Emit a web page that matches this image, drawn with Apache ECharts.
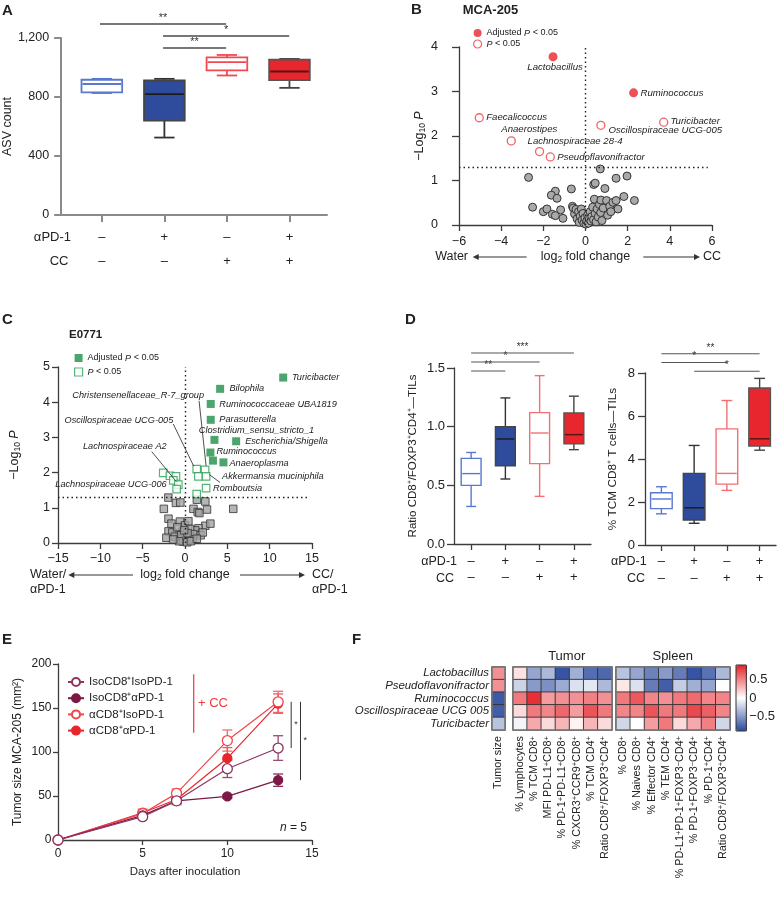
<!DOCTYPE html>
<html>
<head>
<meta charset="utf-8">
<script src="https://cdn.jsdelivr.net/npm/echarts@6.0.0/dist/echarts.min.js"></script>
<style>html,body{margin:0;padding:0;background:#fff;}#chart{width:778px;height:897px;}</style>
</head>
<body>
<div id="chart"></div>
<script>
// ================= DATA =================
// Panel A – ASV count, boxes [min, Q1, median, Q3, max]
const aGroups = [1, 2, 3, 4];
const aPD1Signs = ['–', '+', '–', '+'];
const aCCSigns = ['–', '–', '+', '+'];
const asvBoxes = [[827, 831, 888, 917, 923], [525, 640, 820, 912, 923], [946, 980, 1037, 1068, 1085], [862, 915, 973, 1053, 1058]];
const asvSig = [[1, 3, 3, '**'], [2, 4, 2, '*'], [2, 3, 1, '**']];

// Panel B – MCA-205 volcano [name, log2FC, -log10P]
const bAdjusted = [['Lactobacillus', -1.54, 3.78], ['Ruminococcus', 2.28, 2.97]];
const bNominal = [['Faecalicoccus', -5.04, 2.41], ['Anaerostipes', -3.52, 1.89], ['Lachnospiraceae 28-4', -2.18, 1.65],
  ['Pseudoflavonifractor', -1.67, 1.53], ['Oscillospiraceae UCG-005', 0.73, 2.24], ['Turicibacter', 3.71, 2.31]];
const bNotSig = [[-2.70,1.07],[-2.51,0.40],[-2.00,0.30],[-1.83,0.36],[-1.57,0.24],[-1.43,0.76],[-1.62,0.67],[-1.35,0.60],[-1.18,0.34],[-1.07,0.15],[-1.43,0.21],[-0.67,0.81],
  [-0.62,0.42],[-0.58,0.38],[-0.52,0.25],[-0.45,0.35],[-0.40,0.14],[-0.33,0.30],[-0.30,0.06],[-0.25,0.20],[-0.20,0.36],[-0.16,0.11],[-0.12,0.26],[-0.08,0.04],[-0.03,0.16],[0.02,0.02],[0.06,0.09],[0.10,0.22],[0.14,0.04],[0.18,0.14],[0.22,0.30],[0.26,0.09],[0.30,0.19],[0.34,0.40],[0.38,0.12],[0.42,0.58],[0.46,0.26],[0.50,0.07],[0.55,0.36],[0.60,0.18],[0.66,0.46],[0.72,0.28],[0.78,0.10],[0.84,0.38],
  [0.39,0.91],[0.46,0.94],[0.70,1.26],[0.73,0.56],[0.92,0.82],[1.00,0.55],[1.05,0.22],[1.15,0.42],[1.30,0.51],[1.45,1.05],[1.45,0.55],[1.54,0.36],[1.20,0.30],[1.82,0.64],[1.97,1.10],[2.32,0.55]];

// Panel C – E0771 volcano
const cAdjusted = [['Turicibacter', 11.6, 4.70], ['Bilophila', 4.15, 4.38], ['Ruminococcaceae UBA1819', 3.04, 3.95], ['Parasutterella', 3.04, 3.50],
  ['Clostridium_sensu_stricto_1', 3.48, 2.93], ['Escherichia/Shigella', 6.04, 2.89], ['Ruminococcus', 3.0, 2.57], ['', 3.3, 2.34], ['Anaeroplasma', 4.54, 2.29]];
const cNominal = [['', -2.57, 1.99], ['', -1.78, 1.91], ['', -1.07, 1.89], ['', -1.38, 1.78], ['Lachnospiraceae A2', -0.79, 1.66], ['Lachnospiraceae UCG-006', -0.99, 1.53],
  ['Oscillospiraceae UCG-005', 1.38, 2.10], ['Christensenellaceae_R-7_group', 2.37, 2.08], ['', 1.58, 1.89], ['Akkermansia muciniphila', 2.49, 1.89], ['Romboutsia', 2.49, 1.56], ['', 1.38, 1.39]];
const cNotSig = [[-1.97,1.29],[-1.07,1.14],[-0.55,1.15],[-2.50,0.97],[-1.95,0.69],[-1.95,0.33],[-0.60,0.61],[0.00,0.50],[1.40,1.23],[2.40,1.18],[1.00,0.97],[1.50,0.88],[1.70,0.85],[2.60,0.95],[5.70,0.97],[2.40,0.49],[1.60,0.42],[1.20,0.36],[0.60,0.40],[-0.30,0.32],[-0.90,0.25],[-1.50,0.30],[-0.60,0.12],[0.00,0.08],[0.50,0.15],[1.00,0.25],[-0.20,0.04],[0.25,0.02],[-1.20,0.18],[0.90,0.10],[-0.45,0.22],[0.30,0.28],[1.85,0.22],[-2.20,0.15],[3.00,0.55],[2.10,0.30],[-1.60,0.55],[-0.90,0.45],[0.40,0.62],[-0.10,0.36],[-0.70,0.05],[0.70,0.05],[-1.40,0.10],[1.40,0.12]];
const pThreshold = 1.30103;

// Panel D – TIL boxes
const dGroups = ['1', '2', '3', '4'];
const dPD1Signs = ['–', '+', '–', '+'];
const dCCSigns = ['–', '–', '+', '+'];
const ratioBoxes = [[0.32, 0.50, 0.60, 0.73, 0.78], [0.554, 0.667, 0.895, 1.00, 1.245], [0.406, 0.685, 0.946, 1.12, 1.435], [0.804, 0.855, 0.932, 1.117, 1.26]];
const tcmBoxes = [[1.45, 1.69, 2.14, 2.43, 2.71], [1.01, 1.16, 1.73, 3.33, 4.63], [2.54, 2.83, 3.33, 5.40, 6.72], [4.41, 4.60, 4.94, 7.30, 7.75]];
const ratioSig = [[0, 1, 1, '**'], [0, 2, 2, '*'], [0, 3, 3, '***']];
const tcmSig = [[0, 3, 3, '**'], [0, 2, 2, '*'], [1, 3, 1, '*']];

// Panel E – tumour growth
const days = [0, 5, 7, 10, 13];
const eNames = ['IsoCD8⁺IsoPD-1', 'IsoCD8⁺αPD-1', 'αCD8⁺IsoPD-1', 'αCD8⁺αPD-1'];
const isoIso = [0, 26.5, 44.5, 81, 104.5];
const isoIsoErr = [0, 2, 3, 10, 14];
const isoAnti = [0, 28, 44.5, 49.5, 68];
const isoAntiErr = [0, 2, 3, 2, 7];
const antiIso = [0, 30, 53, 113, 157];
const antiIsoErr = [0, 3, 5, 12, 12];
const antiAnti = [0, 31, 46, 93, 155];
const antiAntiErr = [0, 4, 6, 12, 11];

// Panel F – correlation heatmap
const hmRows = ['Lactobacillus', 'Pseudoflavonifractor', 'Ruminococcus', 'Oscillospiraceae UCG 005', 'Turicibacter'];
const hmSizeCols = ['Tumor size'];
const hmTumorCols = ['% Lymphocytes', '% TCM CD8⁺', 'MFI PD-L1⁺CD8⁺', '% PD-1⁺PD-L1⁺CD8⁺', '% CXCR3⁺CCR9⁺CD8⁺', '% TCM CD4⁺', 'Ratio CD8⁺/FOXP3⁺CD4⁺'];
const hmSpleenCols = ['% CD8⁺', '% Naives CD8⁺', '% Effector CD4⁺', '% TEM CD4⁺', '% PD-L1⁺PD-1⁺FOXP3⁻CD4⁺', '% PD-1⁺FOXP3⁻CD4⁺', '% PD-1⁺CD4⁺', 'Ratio CD8⁺/FOXP3⁺CD4⁺'];
const hmSize = [0.45, 0.45, -0.82, -0.80, -0.30];
const hmTumor = [
  [0.12, -0.45, -0.35, -0.85, -0.40, -0.72, -0.75],
  [-0.22, -0.50, -0.55, -0.42, -0.15, -0.12, -0.35],
  [0.55, 0.85, 0.40, 0.45, 0.45, 0.52, 0.45],
  [0.15, 0.55, 0.50, 0.62, 0.40, 0.70, 0.55],
  [-0.05, 0.35, 0.15, 0.30, 0.05, 0.30, 0.15]];
const hmSpleen = [
  [-0.30, -0.45, -0.62, -0.50, -0.65, -0.85, -0.70, -0.35],
  [0.10, -0.15, -0.65, -0.80, -0.25, -0.40, -0.45, 0.00],
  [0.55, 0.68, 0.50, 0.45, 0.55, 0.60, 0.50, 0.50],
  [0.50, 0.50, 0.70, 0.55, 0.55, 0.75, 0.65, 0.50],
  [-0.20, 0.00, 0.40, 0.55, 0.15, 0.35, 0.52, -0.20]];
const colorTicks = [-0.5, 0, 0.5];

// ================= STYLE / HELPERS =================
const FONT = "'Liberation Sans', Arial, Helvetica, sans-serif";
const DARK = '#3c3c3c';
const RED = '#e8262d';
const GREEN = '#1f8f47';
const minus = v => (v < 0 ? '−' + (-v) : String(v));
const supRich = s => s.replace(/⁺/g, '{p|+}').replace(/⁻/g, '{p|−}');

function merge(a, b) {
  const out = Array.isArray(a) ? a.slice() : Object.assign({}, a);
  for (const k in b) {
    if (b[k] && typeof b[k] === 'object' && !Array.isArray(b[k]) && a[k] && typeof a[k] === 'object') out[k] = merge(a[k], b[k]);
    else out[k] = b[k];
  }
  return out;
}
function axis(gi, type, o, color, w) {
  color = color || DARK; w = w || 1.3;
  return merge({
    type, gridIndex: gi, splitLine: { show: false },
    axisLine: { show: true, onZero: false, lineStyle: { color, width: w } },
    axisTick: { show: true, length: 6, lineStyle: { color, width: w } },
    axisLabel: { fontFamily: FONT, fontSize: 12, color: '#222', margin: 8 },
    nameTextStyle: { fontFamily: FONT, fontSize: 12, color: '#222' }
  }, o);
}
const hidden = (gi, type, o) => Object.assign({ type, gridIndex: gi, show: false }, o);

const boxStylesA = [
  { fill: '#fff', stroke: '#5a78d0', whisker: '#5a78d0', median: '#5a78d0' },
  { fill: '#2f4b9c', stroke: '#444', whisker: '#333', median: '#1c1c1c' },
  { fill: '#fff', stroke: '#f04a50', whisker: '#f04a50', median: '#f04a50' },
  { fill: RED, stroke: '#555', whisker: '#444', median: '#5a1212' }];
const boxStylesD = [
  { fill: '#fff', stroke: '#5a78d0', whisker: '#5a78d0', median: '#5a78d0' },
  { fill: '#2f4b9c', stroke: '#444', whisker: '#333', median: '#1c1c1c' },
  { fill: '#fff', stroke: '#f36f73', whisker: '#f36f73', median: '#f36f73' },
  { fill: RED, stroke: '#555', whisker: '#444', median: '#5a1212' }];

function boxRender(styles, ratio, capRatio, lw) {
  return (params, api) => {
    const st = styles[params.dataIndex];
    const x = api.value(0);
    const p = [1, 2, 3, 4, 5].map(k => api.coord([x, api.value(k)]));
    const cx = p[0][0];
    const bw = api.size([1, 0])[0] * ratio, cw = bw * capRatio;
    const ls = c => ({ stroke: c, lineWidth: lw });
    return { type: 'group', children: [
      { type: 'line', shape: { x1: cx, y1: p[4][1], x2: cx, y2: p[3][1] }, style: ls(st.whisker) },
      { type: 'line', shape: { x1: cx, y1: p[1][1], x2: cx, y2: p[0][1] }, style: ls(st.whisker) },
      { type: 'line', shape: { x1: cx - cw / 2, y1: p[4][1], x2: cx + cw / 2, y2: p[4][1] }, style: ls(st.whisker) },
      { type: 'line', shape: { x1: cx - cw / 2, y1: p[0][1], x2: cx + cw / 2, y2: p[0][1] }, style: ls(st.whisker) },
      { type: 'rect', shape: { x: cx - bw / 2, y: p[3][1], width: bw, height: p[1][1] - p[3][1] }, style: { fill: st.fill, stroke: st.stroke, lineWidth: lw } },
      { type: 'line', shape: { x1: cx - bw / 2 + 1, y1: p[2][1], x2: cx + bw / 2 - 1, y2: p[2][1] }, style: ls(st.median) }
    ] };
  };
}
function sigRender(sig, color, lw, fs) {
  return (params, api) => {
    const s = sig[params.dataIndex];
    const a = api.coord([api.value(0), api.value(2)]), b = api.coord([api.value(1), api.value(2)]);
    return { type: 'group', children: [
      { type: 'line', shape: { x1: a[0], y1: a[1], x2: b[0], y2: b[1] }, style: { stroke: color, lineWidth: lw } },
      { type: 'text', x: (a[0] + b[0]) / 2, y: a[1] - 1, style: { text: s[3], fill: '#333', font: fs + 'px ' + FONT, align: 'center', verticalAlign: 'bottom' } }
    ] };
  };
}
function labelRender(list, cfg, fs) {
  return (params, api) => {
    const name = list[params.dataIndex][0];
    const c = Object.assign({ dx: 7, dy: 0, align: 'left' }, cfg[name] || {});
    const p = api.coord([api.value(0), api.value(1)]);
    const ch = [{ type: 'text', x: p[0] + c.dx, y: p[1] + c.dy, style: { text: name, fill: '#222', font: 'italic ' + fs + 'px ' + FONT, align: c.align, verticalAlign: 'middle' } }];
    if (c.line) ch.push({ type: 'line', shape: { x1: p[0] + c.line[0], y1: p[1] + c.line[1], x2: p[0] + c.line[2], y2: p[1] + c.line[3] }, style: { stroke: '#222', lineWidth: 0.8 } });
    return { type: 'group', children: ch };
  };
}
function errRender(color) {
  return (params, api) => {
    const lo = api.coord([api.value(0), api.value(1)]), hi = api.coord([api.value(0), api.value(2)]);
    if (Math.abs(lo[1] - hi[1]) < 0.5) return null;
    const x = lo[0], w = 5;
    const s = { stroke: color, lineWidth: 1.3 };
    return { type: 'group', children: [
      { type: 'line', shape: { x1: x, y1: lo[1], x2: x, y2: hi[1] }, style: s },
      { type: 'line', shape: { x1: x - w, y1: lo[1], x2: x + w, y2: lo[1] }, style: s },
      { type: 'line', shape: { x1: x - w, y1: hi[1], x2: x + w, y2: hi[1] }, style: s }
    ] };
  };
}

const bLabelCfg = {
  'Lactobacillus': { dx: 2, dy: 11, align: 'center' },
  'Ruminococcus': { dx: 7, dy: 0 },
  'Faecalicoccus': { dx: 7, dy: 0 },
  'Anaerostipes': { dx: 18, dy: -11.5, align: 'center' },
  'Lachnospiraceae 28-4': { dx: 35.5, dy: -10, align: 'center' },
  'Pseudoflavonifractor': { dx: 7, dy: 0 },
  'Oscillospiraceae UCG-005': { dx: 7.6, dy: 5.3 },
  'Turicibacter': { dx: 6.7, dy: -1.3 }
};
const cLabelCfg = {
  'Turicibacter': { dx: 8.7 }, 'Bilophila': { dx: 9.3 }, 'Ruminococcaceae UBA1819': { dx: 8.6, dy: 0.7 }, 'Parasutterella': { dx: 8.6 },
  'Clostridium_sensu_stricto_1': { dx: 42, dy: -9.3, align: 'center' }, 'Escherichia/Shigella': { dx: 9 }, 'Ruminococcus': { dx: 6, dy: -1 },
  'Anaeroplasma': { dx: 6, dy: 0.6 }, 'Akkermansia muciniphila': { dx: 16, dy: 0, line: [3, -2, 14, 6] }, 'Romboutsia': { dx: 7 },
  'Oscillospiraceae UCG-005': { dx: -23.4, dy: -49, align: 'right', line: [-23.4, -45, -3, -3] },
  'Christensenellaceae_R-7_group': { dx: -1, dy: -74, align: 'right', line: [-6, -69, 1, -4] },
  'Lachnospiraceae A2': { dx: -11.6, dy: -38, align: 'right', line: [-26.6, -33, -2, -3] },
  'Lachnospiraceae UCG-006': { dx: -10, dy: -5, align: 'right' }
};

// ================= CHART =================
const hmBorder = { show: true, borderColor: '#7a7a7a', borderWidth: 1.5, backgroundColor: 'transparent', z: 10 };
const grids = [
  { left: 59, top: 38, width: 268, height: 177 },   // 0 A
  { left: 59, top: 12, width: 268, height: 48 },    // 1 A sig
  { left: 459, top: 47, width: 253, height: 178 },  // 2 B
  { left: 58, top: 367, width: 254, height: 176 },  // 3 C
  { left: 454, top: 368, width: 137, height: 176 }, // 4 D left
  { left: 454, top: 344, width: 137, height: 36 },  // 5 D left sig
  { left: 645, top: 373, width: 131, height: 172 }, // 6 D right
  { left: 645, top: 345, width: 131, height: 35 },  // 7 D right sig
  { left: 58, top: 664, width: 254, height: 176 },  // 8 E
  Object.assign({ left: 492, top: 667, width: 13, height: 63 }, hmBorder),   // 9 F size
  Object.assign({ left: 513, top: 667, width: 99, height: 63 }, hmBorder),   // 10 F tumor
  Object.assign({ left: 616, top: 667, width: 114, height: 63 }, hmBorder),  // 11 F spleen
  { left: 736, top: 665, width: 11, height: 66, show: true, borderColor: '#333', borderWidth: 1, backgroundColor: 'transparent', z: 10 } // 12 colorbar axis
];

const GREY_A = '#8a8a8a';
const hmXLabel = { rotate: 90, interval: 0, margin: 6, fontSize: 10.8, fontFamily: FONT, color: '#222', formatter: supRich,
  rich: { p: { fontSize: 7.5, fontFamily: FONT, color: '#222', verticalAlign: 'top', lineHeight: 8 } } };
const xAxes = [
  axis(0, 'value', { min: 0.35, max: 4.6, axisTick: { customValues: aGroups, length: 7 },
    axisLabel: { customValues: aGroups, fontSize: 13, lineHeight: 23.5, margin: 11, formatter: v => aPD1Signs[aGroups.indexOf(v)] + '\n' + aCCSigns[aGroups.indexOf(v)] } }, GREY_A, 2),
  hidden(1, 'value', { min: 0.35, max: 4.6 }),
  axis(2, 'value', { min: -6, max: 6, interval: 2, axisLabel: { formatter: minus, fontSize: 12.5, margin: 10 },
    name: '{t|log}{s|2}{t| fold change}', nameLocation: 'middle', nameGap: 24,
    nameTextStyle: { rich: { t: { fontSize: 12.5, fontFamily: FONT, color: '#222' }, s: { fontSize: 8.5, fontFamily: FONT, color: '#222', verticalAlign: 'bottom', padding: [6, 0, 0, 0] } } } }),
  axis(3, 'value', { min: -15, max: 15, interval: 5, axisLabel: { formatter: minus, fontSize: 12.5, margin: 9.5 },
    name: '{t|log}{s|2}{t| fold change}', nameLocation: 'middle', nameGap: 24,
    nameTextStyle: { rich: { t: { fontSize: 12.5, fontFamily: FONT, color: '#222' }, s: { fontSize: 8.5, fontFamily: FONT, color: '#222', verticalAlign: 'bottom', padding: [6, 0, 0, 0] } } } }),
  axis(4, 'category', { data: dGroups, axisTick: { alignWithLabel: true }, axisLabel: { fontSize: 13, lineHeight: 16.6, margin: 9, formatter: (v, i) => dPD1Signs[i] + '\n' + dCCSigns[i] } }),
  hidden(5, 'category', { data: dGroups }),
  axis(6, 'category', { data: dGroups, axisTick: { alignWithLabel: true }, axisLabel: { fontSize: 13, lineHeight: 16.6, margin: 8.5, formatter: (v, i) => dPD1Signs[i] + '\n' + dCCSigns[i] } }),
  hidden(7, 'category', { data: dGroups }),
  axis(8, 'value', { min: 0, max: 15, interval: 5, axisTick: { length: 5 }, axisLabel: { margin: 8 }, name: 'Days after inoculation', nameLocation: 'middle', nameGap: 26, nameTextStyle: { fontSize: 11.5 } }),
  { type: 'category', gridIndex: 9, data: hmSizeCols, axisLine: { show: false }, axisTick: { show: false }, axisLabel: hmXLabel },
  { type: 'category', gridIndex: 10, data: hmTumorCols, axisLine: { show: false }, axisTick: { show: false }, axisLabel: hmXLabel },
  { type: 'category', gridIndex: 11, data: hmSpleenCols, axisLine: { show: false }, axisTick: { show: false }, axisLabel: hmXLabel },
  hidden(12, 'value', { min: 0, max: 1 })
];
const yAxes = [
  axis(0, 'value', { min: 0, max: 1200, interval: 400, axisTick: { length: 7 }, axisLabel: { fontSize: 12.5, margin: 12, formatter: v => v.toLocaleString('en-US') },
    name: 'ASV count', nameLocation: 'middle', nameGap: 32, nameTextStyle: { fontSize: 12.5 } }, GREY_A, 2),
  hidden(1, 'value', { min: 0, max: 4 }),
  axis(2, 'value', { min: 0, max: 4, interval: 1, axisTick: { length: 7 }, axisLabel: { fontSize: 12.5, margin: 21 },
    name: '−Log{s|10} {i|P}', nameLocation: 'middle', nameGap: 30,
    nameTextStyle: { fontSize: 12.5, rich: { s: { fontSize: 8.5, fontFamily: FONT, color: '#222', verticalAlign: 'bottom', padding: [6, 0, 0, 0] }, i: { fontStyle: 'italic', fontSize: 12.5, fontFamily: FONT, color: '#222' } } } }),
  axis(3, 'value', { min: 0, max: 5, interval: 1, axisLabel: { fontSize: 12.5, margin: 8 },
    name: '−Log{s|10} {i|P}', nameLocation: 'middle', nameGap: 36,
    nameTextStyle: { fontSize: 12.5, rich: { s: { fontSize: 8.5, fontFamily: FONT, color: '#222', verticalAlign: 'bottom', padding: [6, 0, 0, 0] }, i: { fontStyle: 'italic', fontSize: 12.5, fontFamily: FONT, color: '#222' } } } }),
  axis(4, 'value', { min: 0, max: 1.5, interval: 0.5, axisTick: { length: 7 }, axisLabel: { fontSize: 13, margin: 9, formatter: v => v.toFixed(1) },
    name: 'Ratio CD8⁺/FOXP3⁺CD4⁺—TILs', nameLocation: 'middle', nameGap: 35, nameTextStyle: { fontSize: 11.5 } }),
  hidden(5, 'value', { min: 0, max: 4 }),
  axis(6, 'value', { min: 0, max: 8, interval: 2, axisTick: { length: 7 }, axisLabel: { fontSize: 13, margin: 10 },
    name: '% TCM CD8⁺ T cells—TILs', nameLocation: 'middle', nameGap: 26, nameTextStyle: { fontSize: 11.8 } }),
  hidden(7, 'value', { min: 0, max: 4 }),
  axis(8, 'value', { min: 0, max: 200, interval: 50, axisTick: { length: 5 }, axisLabel: { margin: 6.5 },
    name: 'Tumor size MCA-205 (mm²)', nameLocation: 'middle', nameGap: 34, nameTextStyle: { fontSize: 12 } }),
  { type: 'category', gridIndex: 9, data: hmRows, inverse: true, axisLine: { show: false }, axisTick: { show: false }, axisLabel: { interval: 0, margin: 3, fontSize: 11.4, fontStyle: 'italic', fontFamily: FONT, color: '#222' } },
  { type: 'category', gridIndex: 10, data: hmRows, inverse: true, axisLine: { show: false }, axisTick: { show: false }, axisLabel: { show: false } },
  { type: 'category', gridIndex: 11, data: hmRows, inverse: true, axisLine: { show: false }, axisTick: { show: false }, axisLabel: { show: false } },
  { type: 'value', gridIndex: 12, position: 'right', min: -0.9, max: 0.9, splitLine: { show: false }, axisLine: { show: false },
    axisTick: { show: true, customValues: colorTicks, length: 3, lineStyle: { color: '#333' } },
    axisLabel: { customValues: colorTicks, margin: 3, fontSize: 13, fontFamily: FONT, color: '#222', formatter: minus } }
];

const bDotted = { type: [1.5, 3], color: '#222', width: 1.4 };
const series = [];
// A boxes
series.push({ type: 'custom', xAxisIndex: 0, yAxisIndex: 0, renderItem: boxRender(boxStylesA, 0.65, 0.5, 1.8),
  encode: { x: 0, y: [1, 2, 3, 4, 5] }, data: asvBoxes.map((b, i) => [aGroups[i]].concat(b)), silent: true });
// A sig
series.push({ type: 'custom', xAxisIndex: 1, yAxisIndex: 1, renderItem: sigRender(asvSig, '#777', 1.8, 11), encode: { x: [0, 1], y: 2 }, data: asvSig.map(s => [s[0], s[1], s[2]]), silent: true });
// B grey
series.push({ type: 'scatter', xAxisIndex: 2, yAxisIndex: 2, symbol: 'circle', symbolSize: 8, data: bNotSig,
  itemStyle: { color: '#a9a9a9', borderColor: '#333', borderWidth: 1, opacity: 1 }, silent: true,
  markLine: { silent: true, symbol: ['none', 'none'], label: { show: false }, lineStyle: bDotted,
    data: [[{ coord: [0, 0] }, { coord: [0, 4] }], [{ coord: [-6, pThreshold] }, { coord: [5.8, pThreshold] }]] } });
// B nominal
series.push({ name: 'bNom', type: 'scatter', xAxisIndex: 2, yAxisIndex: 2, symbol: 'circle', symbolSize: 8, data: bNominal.map(r => [r[1], r[2]]),
  itemStyle: { color: '#fff', borderColor: '#ee3a3e', borderWidth: 1.3 }, silent: true });
// B adjusted
series.push({ name: 'bAdj', type: 'scatter', xAxisIndex: 2, yAxisIndex: 2, symbol: 'circle', symbolSize: 9, data: bAdjusted.map(r => [r[1], r[2]]),
  itemStyle: { color: RED }, silent: true });
// B labels
const bLabeled = bAdjusted.concat(bNominal);
series.push({ type: 'custom', xAxisIndex: 2, yAxisIndex: 2, renderItem: labelRender(bLabeled, bLabelCfg, 9.6), data: bLabeled.map(r => [r[1], r[2]]), silent: true, z: 5 });
// C grey
series.push({ type: 'scatter', xAxisIndex: 3, yAxisIndex: 3, symbol: 'rect', symbolSize: 7.5, data: cNotSig,
  itemStyle: { color: '#a3a3a3', borderColor: '#333', borderWidth: 1 }, silent: true,
  markLine: { silent: true, symbol: ['none', 'none'], label: { show: false }, lineStyle: bDotted,
    data: [[{ coord: [0, 0] }, { coord: [0, 5] }], [{ coord: [-15, pThreshold] }, { coord: [14.5, pThreshold] }]] } });
// C nominal
series.push({ name: 'cNom', type: 'scatter', xAxisIndex: 3, yAxisIndex: 3, symbol: 'rect', symbolSize: 7.5, data: cNominal.map(r => [r[1], r[2]]),
  itemStyle: { color: '#fff', borderColor: '#2aa055', borderWidth: 1.2 }, silent: true });
// C adjusted
series.push({ name: 'cAdj', type: 'scatter', xAxisIndex: 3, yAxisIndex: 3, symbol: 'rect', symbolSize: 8, data: cAdjusted.map(r => [r[1], r[2]]),
  itemStyle: { color: GREEN }, silent: true });
// C labels
const cLabeled = cAdjusted.concat(cNominal).filter(r => r[0]);
series.push({ type: 'custom', xAxisIndex: 3, yAxisIndex: 3, renderItem: labelRender(cLabeled, cLabelCfg, 9.2), data: cLabeled.map(r => [r[1], r[2]]), silent: true, z: 5 });
// D
series.push({ type: 'custom', xAxisIndex: 4, yAxisIndex: 4, renderItem: boxRender(boxStylesD, 0.58, 0.5, 1.4), encode: { x: 0, y: [1, 2, 3, 4, 5] }, data: ratioBoxes.map((b, i) => [i].concat(b)), silent: true });
series.push({ type: 'custom', xAxisIndex: 5, yAxisIndex: 5, renderItem: sigRender(ratioSig, '#555', 1.2, 10), encode: { x: [0, 1], y: 2 }, data: ratioSig.map(s => [s[0], s[1], s[2]]), silent: true });
series.push({ type: 'custom', xAxisIndex: 6, yAxisIndex: 6, renderItem: boxRender(boxStylesD, 0.66, 0.5, 1.4), encode: { x: 0, y: [1, 2, 3, 4, 5] }, data: tcmBoxes.map((b, i) => [i].concat(b)), silent: true });
series.push({ type: 'custom', xAxisIndex: 7, yAxisIndex: 7, renderItem: sigRender(tcmSig, '#555', 1.2, 10), encode: { x: [0, 1], y: 2 }, data: tcmSig.map(s => [s[0], s[1], s[2]]), silent: true });
// E error bars
const eMeans = [isoIso, isoAnti, antiIso, antiAnti];
const eErrs = [isoIsoErr, isoAntiErr, antiIsoErr, antiAntiErr];
const eLine = ['#8e3563', '#7b1846', '#f0464b', '#e8262d'];
const eErrCol = ['#9b4a74', '#8a2a57', '#f36a6e', '#ef5a5f'];
const eFill = ['#fff', '#7b1846', '#fff', '#e8262d'];
eMeans.forEach((m, k) => {
  series.push({ type: 'custom', xAxisIndex: 8, yAxisIndex: 8, renderItem: errRender(eErrCol[k]), encode: { x: 0, y: [1, 2] },
    data: days.map((d, i) => [d, m[i] - eErrs[k][i], m[i] + eErrs[k][i]]), silent: true, z: 1 });
});
// E lines (drawn in reverse so the first group is on top, like the reference)
eMeans.forEach((m, k) => {
  series.push({ name: eNames[k], type: 'line', xAxisIndex: 8, yAxisIndex: 8, data: days.map((d, i) => [d, m[i]]),
    symbol: 'circle', symbolSize: eFill[k] === '#fff' ? 10 : 9, showAllSymbol: true,
    lineStyle: { color: eLine[k], width: 1.2 }, itemStyle: { color: eFill[k], borderColor: eLine[k], borderWidth: 1.3 }, silent: true, z: 6 - k });
});
// E significance
const eSig = [[13.77, antiIso[4], isoIso[4]], [14.32, antiIso[4], isoAnti[4]]];
series.push({ type: 'custom', xAxisIndex: 8, yAxisIndex: 8, encode: { x: 0, y: [1, 2] }, data: eSig, silent: true,
  renderItem: (params, api) => {
    const a = api.coord([api.value(0), api.value(1)]), b = api.coord([api.value(0), api.value(2)]);
    return { type: 'group', children: [
      { type: 'line', shape: { x1: a[0], y1: a[1], x2: b[0], y2: b[1] }, style: { stroke: '#333', lineWidth: 1 } },
      { type: 'text', x: a[0] + 3, y: (a[1] + b[1]) / 2, style: { text: '*', fill: '#333', font: '9px ' + FONT, align: 'left', verticalAlign: 'middle' } }] };
  } });
// F heatmaps
const hmSizeData = hmSize.map((v, r) => [0, r, v]);
const hmTumorData = []; hmTumor.forEach((row, r) => row.forEach((v, c) => hmTumorData.push([c, r, v])));
const hmSpleenData = []; hmSpleen.forEach((row, r) => row.forEach((v, c) => hmSpleenData.push([c, r, v])));
const hmStyle = { borderColor: '#333', borderWidth: 0.9 };
series.push({ type: 'heatmap', xAxisIndex: 9, yAxisIndex: 9, data: hmSizeData, itemStyle: hmStyle, silent: true });
series.push({ type: 'heatmap', xAxisIndex: 10, yAxisIndex: 10, data: hmTumorData, itemStyle: hmStyle, silent: true });
series.push({ type: 'heatmap', xAxisIndex: 11, yAxisIndex: 11, data: hmSpleenData, itemStyle: hmStyle, silent: true });
const hmIdx = [series.length - 3, series.length - 2, series.length - 1];

// graphics (text annotations)
const txt = (text, x, y, o) => ({ type: 'text', x, y, silent: true, style: Object.assign({ text, fill: '#222', font: '12.5px ' + FONT, align: 'left', verticalAlign: 'middle' }, o || {}) });
const bold = s => 'bold ' + s + 'px ' + FONT;
function arrow(x1, x2, y, dir) {
  const hx = dir < 0 ? x1 : x2, s = dir < 0 ? 1 : -1;
  return [
    { type: 'line', silent: true, shape: { x1: x1 + (dir < 0 ? 4 : 0), y1: y, x2: x2 - (dir > 0 ? 4 : 0), y2: y }, style: { stroke: '#333', lineWidth: 1 } },
    { type: 'polygon', silent: true, shape: { points: [[hx, y], [hx + s * 6, y - 3], [hx + s * 6, y + 3]] }, style: { fill: '#333' } }];
}
const graphics = [
  txt('A', 2, 11, { font: bold(15) }), txt('B', 411, 9.5, { font: bold(15) }), txt('C', 2, 320, { font: bold(15) }),
  txt('D', 405, 320, { font: bold(15) }), txt('E', 2, 640, { font: bold(15) }), txt('F', 352, 640, { font: bold(15) }),
  txt('MCA-205', 462.7, 10.5, { font: bold(13) }), txt('E0771', 69, 335, { font: bold(11.5) }),
  txt('αPD-1', 71, 237.7, { align: 'right', font: '13px ' + FONT }), txt('CC', 68.5, 261, { align: 'right', font: '13px ' + FONT }),
  txt('Water', 468, 257, { align: 'right' }), txt('CC', 703, 257),
  ...arrow(472.7, 526.7, 257, -1), ...arrow(643.3, 700, 257, 1),
  txt('Water/', 30, 575), txt('αPD-1', 30, 590), txt('CC/', 312, 575), txt('αPD-1', 312, 590),
  ...arrow(68.3, 133, 575, -1), ...arrow(240, 305, 575, 1),
  txt('αPD-1', 457, 561.7, { align: 'right' }), txt('CC', 454, 578.3, { align: 'right' }),
  txt('αPD-1', 646.7, 561.7, { align: 'right' }), txt('CC', 645, 578.3, { align: 'right' }),
  { type: 'line', silent: true, shape: { x1: 193.7, y1: 674.3, x2: 193.7, y2: 732.7 }, style: { stroke: '#f0464b', lineWidth: 1.3 } },
  txt('+ CC', 198, 703.3, { fill: '#ee3a3e', font: '13px ' + FONT }),
  txt('{i|n} = 5', 307, 827.3, { align: 'right', font: '12px ' + FONT, rich: { i: { fontStyle: 'italic', fontSize: 12, fontFamily: FONT } } }),
  txt('Tumor', 566.7, 656, { align: 'center', font: '13px ' + FONT }), txt('Spleen', 672.7, 656, { align: 'center', font: '13px ' + FONT })
];

const legendText = { fontFamily: FONT, fontSize: 9, color: '#222', lineHeight: 11, rich: { i: { fontStyle: 'italic', fontFamily: FONT, fontSize: 9, color: '#222' } } };
const legendFmt = n => (n.endsWith('Adj') ? 'Adjusted {i|P} < 0.05' : '{i|P} < 0.05');
const option = {
  animation: false,
  backgroundColor: '#fff',
  textStyle: { fontFamily: FONT },
  grid: grids,
  xAxis: xAxes,
  yAxis: yAxes,
  legend: [
    { left: 468, top: 22.5, orient: 'vertical', itemWidth: 8, itemHeight: 8, itemGap: 0, selectedMode: false, formatter: legendFmt, textStyle: legendText,
      data: [{ name: 'bAdj', icon: 'circle', itemStyle: { color: RED } }, { name: 'bNom', icon: 'circle', itemStyle: { color: '#fff', borderColor: '#ee3a3e', borderWidth: 1.2 } }] },
    { left: 69, top: 347, orient: 'vertical', itemWidth: 8, itemHeight: 8, itemGap: 2, selectedMode: false, formatter: legendFmt, textStyle: Object.assign({}, legendText, { lineHeight: 12 }),
      data: [{ name: 'cAdj', icon: 'rect', itemStyle: { color: GREEN } }, { name: 'cNom', icon: 'rect', itemStyle: { color: '#fff', borderColor: '#2aa055', borderWidth: 1.2 } }] },
    { left: 62, top: 670, orient: 'vertical', itemWidth: 16, itemHeight: 10, itemGap: 2.2, selectedMode: false,
      textStyle: { fontFamily: FONT, fontSize: 11.5, color: '#222', lineHeight: 14 }, data: eNames }
  ],
  visualMap: {
    type: 'continuous', min: -0.9, max: 0.9, seriesIndex: hmIdx, calculable: false, orient: 'vertical',
    left: 736, top: 665, itemWidth: 11, itemHeight: 66, padding: 0, text: null, hoverLink: false,
    inRange: { color: ['#2a4a9e', '#ffffff', '#e5232a'] }
  },
  series,
  graphic: graphics
};
const chart = echarts.init(document.getElementById('chart'), null, { renderer: 'canvas' });
chart.setOption(option);
</script>
</body>
</html>
